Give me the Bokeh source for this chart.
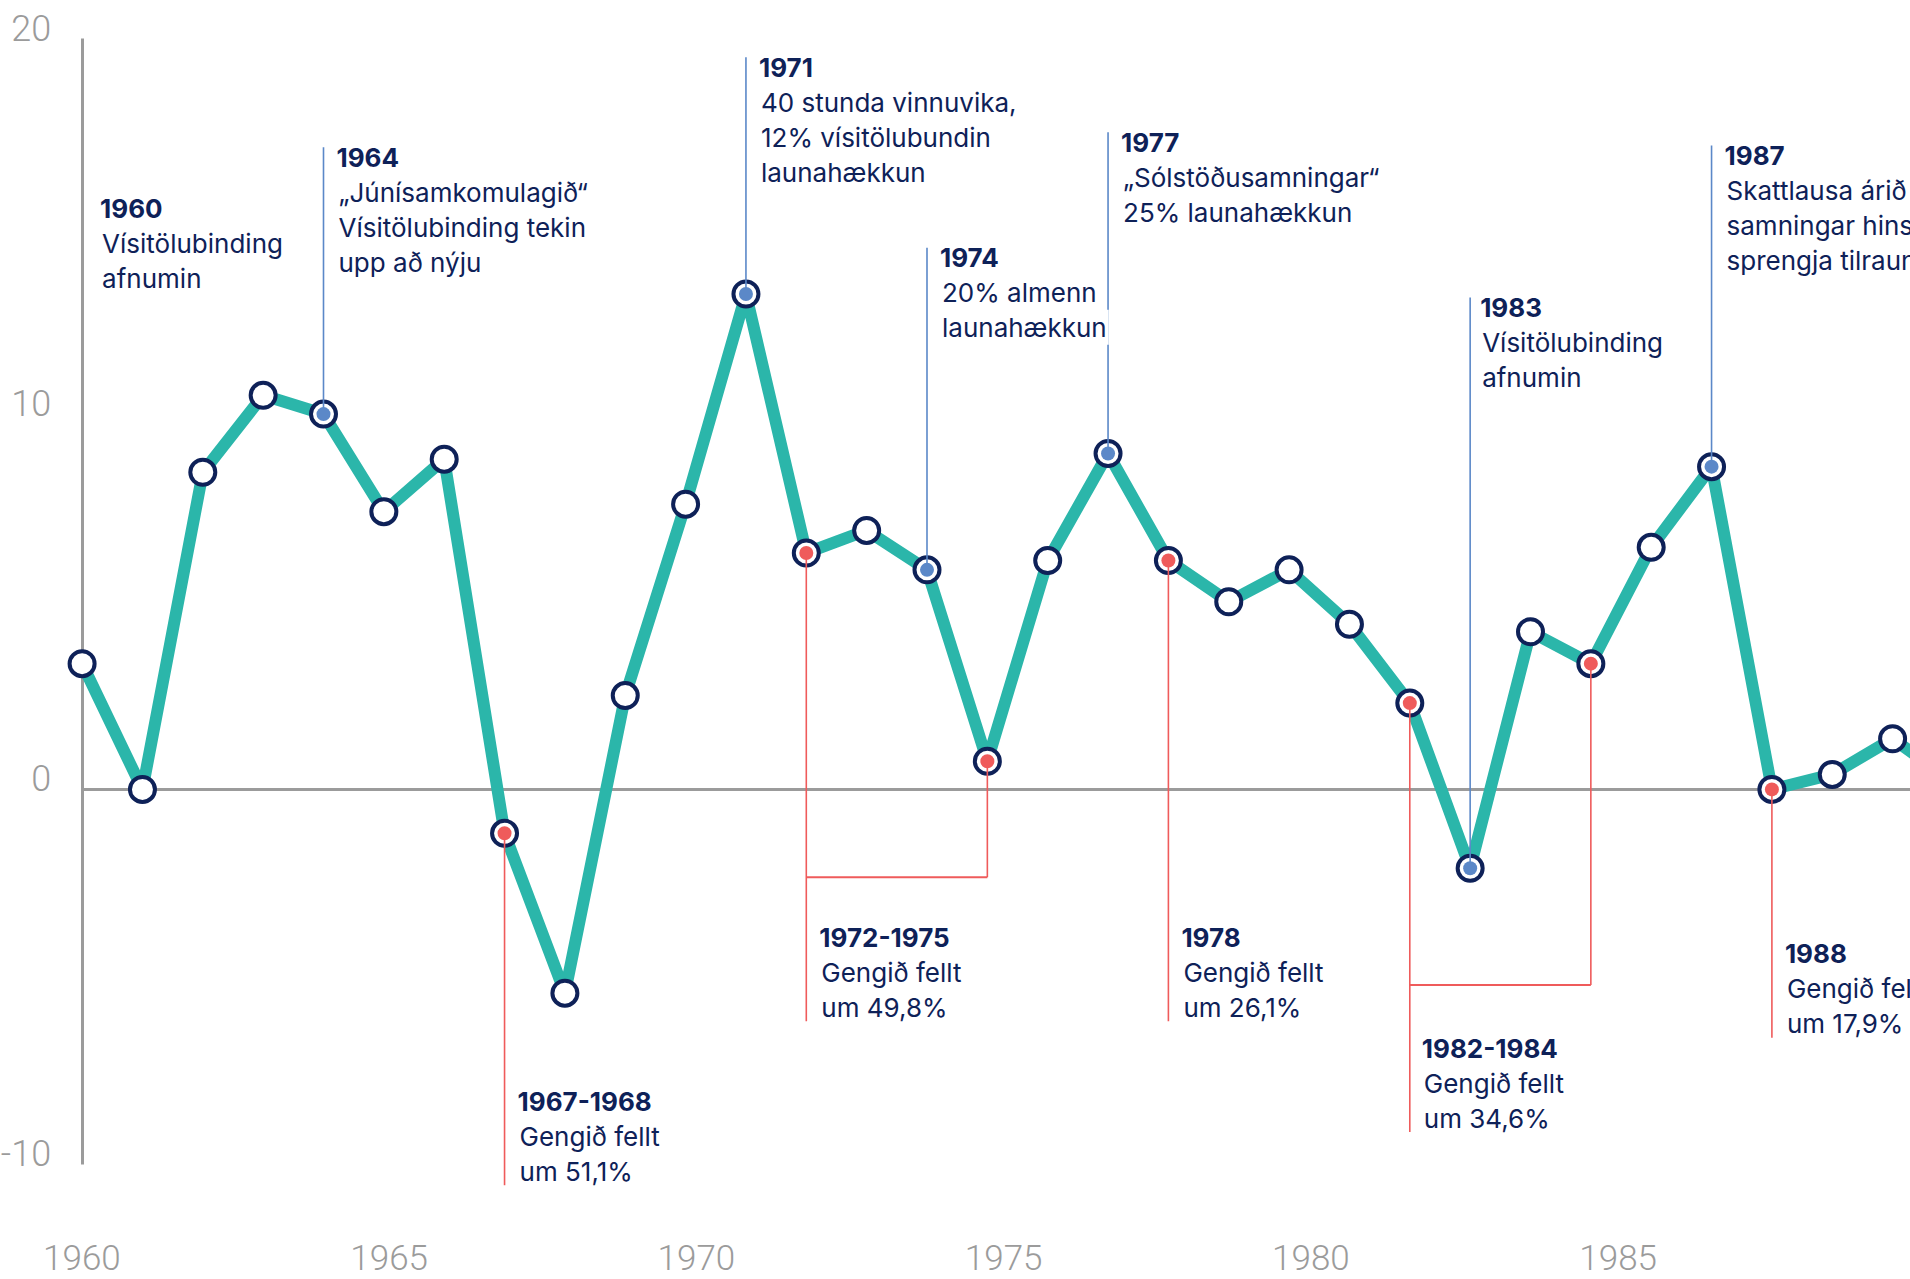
from bokeh.plotting import figure
from bokeh.models import Range1d, LinearAxis, FixedTicker, ColumnDataSource
from bokeh.core.properties import value
from bokeh.embed import file_html
from bokeh.resources import INLINE

# ---------------- data ----------------
years = [1960, 1961, 1962, 1963, 1964, 1965, 1966, 1967, 1968, 1969,
         1970, 1971, 1972, 1973, 1974, 1975, 1976, 1977, 1978, 1979,
         1980, 1981, 1982, 1983, 1984, 1985, 1986, 1987, 1988, 1989,
         1990, 1991]
values = [3.35, 0.0, 8.45, 10.5, 10.0, 7.4, 8.8, -1.17, -5.43, 2.5,
          7.6, 13.2, 6.3, 6.9, 5.85, 0.75, 6.1, 8.95, 6.1, 5.0,
          5.85, 4.4, 2.3, -2.1, 4.2, 3.35, 6.45, 8.6, 0.0, 0.4,
          1.35, 0.2]

blue_events = [1964, 1971, 1974, 1977, 1983, 1987]
red_events = [1967, 1972, 1975, 1978, 1982, 1985, 1988]

x_ticks = [1960, 1965, 1970, 1975, 1980, 1985, 1990]
y_ticks = [-10, 0, 10, 20]
y_tick_labels = {-10: "-10", 0: "0", 10: "10", 20: "20"}

ann_year = [1960, 1964, 1971, 1974, 1977, 1983, 1987,
            1967, 1972, 1978, 1982, 1988]
ann_title = ["1960", "1964", "1971", "1974", "1977", "1983", "1987",
             "1967-1968", "1972-1975", "1978", "1982-1984", "1988"]
ann_body = [
    ["Vísitölubinding", "afnumin"],
    ["„Júnísamkomulagið“", "Vísitölubinding tekin", "upp að nýju"],
    ["40 stunda vinnuvika,", "12% vísitölubundin", "launahækkun"],
    ["20% almenn", "launahækkun"],
    ["„Sólstöðusamningar“", "25% launahækkun"],
    ["Vísitölubinding", "afnumin"],
    ["Skattlausa árið", "samningar hins opinbera", "sprengja tilraunina"],
    ["Gengið fellt", "um 51,1%"],
    ["Gengið fellt", "um 49,8%"],
    ["Gengið fellt", "um 26,1%"],
    ["Gengið fellt", "um 34,6%"],
    ["Gengið fellt", "um 17,9%"],
]

# ---------------- layout (positions, not data) ----------------
ann_y = [15.20, 16.58, 18.98, 13.91, 16.98, 12.58, 16.62,
         -8.58, -4.20, -4.20, -7.16, -4.63]          # title baselines
ann_dx = [18, 13, 13, 13, 13, 10, 13, 13, 13, 13, 12, 13]
blue_stem_top = [17.11, 19.51, 14.43, 17.51, 13.11, 17.16]
red_stem_years = [1967, 1972, 1978, 1982, 1988]
red_stem_bottom = [-10.55, -6.18, -6.18, -9.13, -6.62]
bracket_from = [1972, 1982]
bracket_to = [1975, 1985]
bracket_y = [-2.34, -5.21]
LINE_GAP = 35
TEXT_SHIFT = -10
Y0, Y1 = -13.0589, 21.0205
YLAB_SHIFT = 0.3   # tick labels sit slightly above their level

NAVY = "#0e2158"
TEAL = "#2bb6aa"
BLUE = "#5b88c8"
RED = "#ef5b5b"
GRAY = "#9b9b9b"
FONT = "Inter"
TICK_FONT = "Roboto Light"

val = dict(zip(years, values))

p = figure(width=1910, height=1279,
           x_range=Range1d(1958.6479, 1990.2966),
           y_range=Range1d(Y0, Y1),
           x_axis_type=None, y_axis_type=None,
           output_backend="svg", toolbar_location=None,
           min_border=0, outline_line_color=None)
p.min_border_left = 0
p.min_border_right = 0
p.min_border_top = 0
p.min_border_bottom = 0
p.extra_x_ranges = {"ticks": Range1d(1958.6754, 1989.7576)}
p.extra_y_ranges = {"ylab": Range1d(Y0 - YLAB_SHIFT, Y1 - YLAB_SHIFT)}

# axes
yline = LinearAxis(ticker=FixedTicker(ticks=[]), fixed_location=years[0],
                   bounds=(-10, 20), axis_line_color=GRAY, axis_line_width=3,
                   major_tick_line_color=None, minor_tick_line_color=None,
                   major_label_text_font_size="0px")
p.add_layout(yline, "left")

ylabels = LinearAxis(y_range_name="ylab", ticker=FixedTicker(ticks=y_ticks),
                     fixed_location=years[0], axis_line_color=None,
                     major_tick_line_color=None, minor_tick_line_color=None,
                     major_tick_out=0, major_tick_in=0,
                     major_label_standoff=31,
                     major_label_overrides=y_tick_labels,
                     major_label_text_font=TICK_FONT,
                     major_label_text_font_size="36px",
                     major_label_text_color=GRAY)
p.add_layout(ylabels, "left")

xaxis = LinearAxis(x_range_name="ticks", ticker=FixedTicker(ticks=x_ticks),
                   fixed_location=-10, axis_line_color=None,
                   major_tick_line_color=None, minor_tick_line_color=None,
                   major_tick_out=0, major_tick_in=0,
                   major_label_standoff=80,
                   major_label_text_font=TICK_FONT,
                   major_label_text_font_size="35px",
                   major_label_text_color=GRAY)
p.add_layout(xaxis, "below")

zero_axis = LinearAxis(ticker=FixedTicker(ticks=[]), fixed_location=0,
                       bounds=(years[0], 2000), axis_line_color=GRAY,
                       axis_line_width=3, major_tick_line_color=None,
                       minor_tick_line_color=None,
                       major_label_text_font_size="0px")
p.add_layout(zero_axis, "below")

# main line and rings
r = p.line(years, values, line_color=TEAL, line_width=12, line_join="round")
r.level = "overlay"
r = p.scatter(years, values, size=25, fill_color="white", line_color=NAVY,
              line_width=4)
r.level = "overlay"

# stems
r = p.segment(x0=blue_events, y0=[val[y] for y in blue_events],
              x1=blue_events, y1=blue_stem_top,
              line_color=BLUE, line_width=1.6)
r.level = "overlay"
r = p.segment(x0=red_stem_years, y0=[val[y] for y in red_stem_years],
              x1=red_stem_years, y1=red_stem_bottom,
              line_color=RED, line_width=1.6)
r.level = "overlay"
r = p.segment(x0=bracket_to, y0=[val[y] for y in bracket_to],
              x1=bracket_to, y1=bracket_y, line_color=RED, line_width=1.6)
r.level = "overlay"
r = p.segment(x0=bracket_from, y0=bracket_y, x1=bracket_to, y1=bracket_y,
              line_color=RED, line_width=2)
r.level = "overlay"

# inner dots
r = p.scatter(blue_events, [val[y] for y in blue_events], size=14,
              fill_color=BLUE, line_color=None)
r.level = "overlay"
r = p.scatter(red_events, [val[y] for y in red_events], size=14,
              fill_color=RED, line_color=None)
r.level = "overlay"

# body text (one entry per line)
bx, by, bt, bdx, bdy = [], [], [], [], []
for yr, yy, dx, lines in zip(ann_year, ann_y, ann_dx, ann_body):
    for k, ln in enumerate(lines):
        bx.append(yr)
        by.append(yy)
        bt.append(ln)
        bdx.append(dx)
        bdy.append(LINE_GAP * (k + 1) + TEXT_SHIFT)
body_src = ColumnDataSource(dict(x=bx, y=by, text=bt, dx=bdx, dy=bdy))
r = p.text(x="x", y="y", text="text", x_offset="dx", y_offset="dy",
           source=body_src, text_font=value(FONT), text_font_size="26px",
           text_color=NAVY, text_align="left", text_baseline="alphabetic",
           background_fill_color="white", padding=2)
r.level = "overlay"

title_src = ColumnDataSource(dict(x=ann_year, y=ann_y, text=ann_title,
                                  dx=ann_dx, dy=[TEXT_SHIFT] * len(ann_year)))
r = p.text(x="x", y="y", text="text", x_offset="dx", y_offset="dy",
           source=title_src,
           text_font=value(FONT), text_font_style="bold", text_font_size="26px",
           text_color=NAVY, text_align="left", text_baseline="alphabetic")
r.level = "overlay"

open("out.html", "w").write(file_html(p, INLINE))
